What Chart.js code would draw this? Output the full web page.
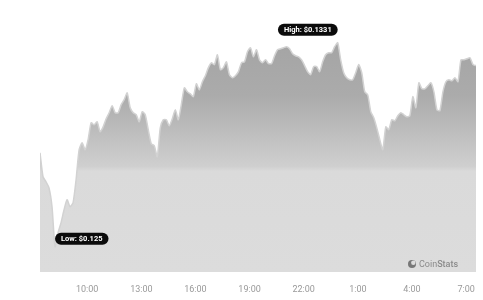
<!DOCTYPE html>
<html>
<head>
<meta charset="utf-8">
<script src="https://cdn.jsdelivr.net/npm/chart.js@4.4.0/dist/chart.umd.min.js"></script>
<style>
    html, body { margin: 0; padding: 0; background: #fff; }
    #chart { display: block; }
</style>
</head>
<body>
<canvas id="chart" width="483" height="300"></canvas>
<script>
// Price series, one reading every 10 minutes starting 07:23
const startMinute = 7 * 60 + 23;
const stepMinutes = 10;
const prices = [
    0.12873, 0.12778, 0.12758, 0.12734, 0.12659, 0.12500, 0.12556, 0.12595, 0.12647, 0.12687,
    0.12659, 0.12675, 0.12766, 0.12885, 0.12913, 0.12885, 0.12925, 0.12992, 0.12984, 0.12996,
    0.12957, 0.12976, 0.13008, 0.13032, 0.13060, 0.13032, 0.13032, 0.13064, 0.13084, 0.13111,
    0.13052, 0.13032, 0.13024, 0.12996, 0.13036, 0.13024, 0.12965, 0.12909, 0.12901, 0.12857,
    0.12972, 0.13004, 0.13004, 0.12980, 0.13008, 0.13044, 0.13004, 0.13064, 0.13131, 0.13115,
    0.13107, 0.13096, 0.13147, 0.13123, 0.13155, 0.13179, 0.13211, 0.13230, 0.13223, 0.13262,
    0.13203, 0.13211, 0.13234, 0.13183, 0.13171, 0.13179, 0.13195, 0.13230, 0.13234, 0.13274,
    0.13290, 0.13254, 0.13282, 0.13242, 0.13230, 0.13242, 0.13227, 0.13227, 0.13258, 0.13282,
    0.13286, 0.13290, 0.13294, 0.13286, 0.13266, 0.13258, 0.13254, 0.13242, 0.13219, 0.13195,
    0.13183, 0.13215, 0.13215, 0.13195, 0.13234, 0.13262, 0.13270, 0.13270, 0.13294, 0.13310,
    0.13242, 0.13191, 0.13171, 0.13163, 0.13163, 0.13191, 0.13223, 0.13191, 0.13115, 0.13103,
    0.13036, 0.13012, 0.12972, 0.12925, 0.12885, 0.12976, 0.12965, 0.13004, 0.13000, 0.13020,
    0.13032, 0.13024, 0.13016, 0.13020, 0.13096, 0.13052, 0.13151, 0.13127, 0.13127, 0.13139,
    0.13151, 0.13115, 0.13044, 0.13040, 0.13115, 0.13155, 0.13163, 0.13159, 0.13171, 0.13155,
    0.13242, 0.13242, 0.13246, 0.13250, 0.13223, 0.13219
];

// x axis ticks (minutes since midnight of the first day)
const tickMinutes = [600, 780, 960, 1140, 1320, 1500, 1680, 1860];
const tickLabels = ['10:00', '13:00', '16:00', '19:00', '22:00', '1:00', '4:00', '7:00'];

const highLabel = 'High: $0.1331';
const lowLabel = 'Low: $0.125';

const points = prices.map((p, i) => ({ x: startMinute + i * stepMinutes, y: p }));

function roundRect(ctx, x, y, w, h, r) {
    ctx.beginPath();
    ctx.moveTo(x + r, y);
    ctx.arcTo(x + w, y, x + w, y + h, r);
    ctx.arcTo(x + w, y + h, x, y + h, r);
    ctx.arcTo(x, y + h, x, y, r);
    ctx.arcTo(x, y, x + w, y, r);
    ctx.closePath();
}

// High / low pills and the watermark
const markersPlugin = {
    id: 'markers',
    afterDatasetsDraw(chart) {
        const ctx = chart.ctx;
        const xs = chart.scales.x, ys = chart.scales.y;
        let hi = 0, lo = 0;
        prices.forEach((p, i) => {
            if (p > prices[hi]) hi = i;
            if (p < prices[lo]) lo = i;
        });

        ctx.save();
        ctx.font = 'bold 7.5px Roboto, sans-serif';
        ctx.textBaseline = 'middle';

        // high pill: right edge on the point, above it
        let px = xs.getPixelForValue(points[hi].x);
        let py = ys.getPixelForValue(points[hi].y);
        let w = ctx.measureText(highLabel).width + 12;
        ctx.fillStyle = '#0b0b0b';
        roundRect(ctx, px - w, py - 19, w, 12, 6);
        ctx.fill();
        ctx.fillStyle = '#fff';
        ctx.textAlign = 'center';
        ctx.fillText(highLabel, px - w / 2, py - 13);

        // low pill: left edge on the point, just above it
        px = xs.getPixelForValue(points[lo].x);
        py = ys.getPixelForValue(points[lo].y);
        w = ctx.measureText(lowLabel).width + 12;
        ctx.fillStyle = '#0b0b0b';
        roundRect(ctx, px, py - 14, w, 12, 6);
        ctx.fill();
        ctx.fillStyle = '#fff';
        ctx.fillText(lowLabel, px + w / 2, py - 8);

        // CoinStats watermark
        const area = chart.chartArea;
        const wx = area.right - 64, wy = area.bottom - 8;
        ctx.fillStyle = '#777';
        ctx.beginPath();
        ctx.arc(wx, wy, 4, 0, Math.PI * 2);
        ctx.fill();
        ctx.fillStyle = '#dcdcdc';
        ctx.beginPath();
        ctx.arc(wx + 1.3, wy - 1.3, 2.2, 0, Math.PI * 2);
        ctx.fill();
        ctx.textAlign = 'left';
        ctx.fillStyle = '#8a8a8a';
        ctx.font = '9px Roboto, sans-serif';
        ctx.fillText('Coin', wx + 7, wy + 0.5);
        const cw = ctx.measureText('Coin').width;
        ctx.font = '500 9px Roboto, sans-serif';
        ctx.fillText('Stats', wx + 7 + cw, wy + 0.5);
        ctx.restore();
    }
};

function areaFill(context) {
    const chart = context.chart;
    const area = chart.chartArea;
    if (!area) return '#c8c8c8';
    const g = chart.ctx.createLinearGradient(0, area.top, 0, area.bottom);
    g.addColorStop(0, '#a2a2a2');
    g.addColorStop(0.3, '#ababab');
    g.addColorStop(0.58, '#cfcfcf');
    g.addColorStop(0.6, '#dadada');
    g.addColorStop(1, '#dcdcdc');
    return g;
}

new Chart(document.getElementById('chart'), {
    type: 'line',
    data: {
        datasets: [{
            data: points,
            borderColor: '#d2d2d2',
            borderWidth: 1.5,
            backgroundColor: areaFill,
            fill: 'start',
            pointRadius: 0,
            tension: 0.2
        }]
    },
    options: {
        responsive: false,
        animation: false,
        layout: { padding: { left: 40, right: 7, top: 20, bottom: 0 } },
        plugins: { legend: { display: false }, tooltip: { enabled: false } },
        scales: {
            x: {
                type: 'linear',
                min: startMinute,
                max: startMinute + (prices.length - 1) * stepMinutes,
                grid: { display: false, drawTicks: false },
                border: { display: false },
                afterBuildTicks(scale) {
                    scale.ticks = tickMinutes.map(v => ({ value: v }));
                },
                afterFit(scale) {
                    scale.height = 28;
                    scale.paddingRight = 0;
                    scale.paddingLeft = 0;
                },
                ticks: {
                    autoSkip: false,
                    maxRotation: 0,
                    padding: 12,
                    color: '#999',
                    font: { family: 'Roboto, sans-serif', size: 9 },
                    callback(value) {
                        const i = tickMinutes.indexOf(value);
                        return i >= 0 ? tickLabels[i] : '';
                    }
                }
            },
            y: {
                display: false,
                min: 0.124,
                max: 0.134
            }
        }
    },
    plugins: [markersPlugin]
});
</script>
</body>
</html>
